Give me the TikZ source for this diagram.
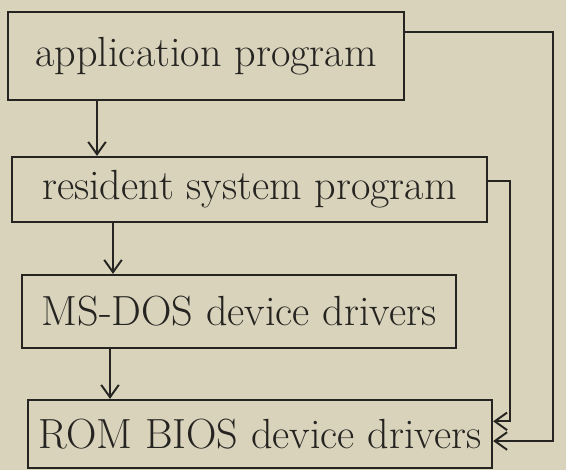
\documentclass[tikz,border=0pt]{standalone}
\usetikzlibrary{arrows.meta,calc}
\definecolor{paper}{HTML}{D9D3BC}
\definecolor{ink}{HTML}{262421}
\begin{document}
\begin{tikzpicture}[x=0.02cm,y=-0.02cm,
  box/.style={draw=ink,line width=1.3pt,fill=paper,inner sep=0pt,font=\fontsize{24}{28}\selectfont,text=ink},
  link/.style={draw=ink,line width=1.1pt},
  arr/.style={link,-{Straight Barb[length=7pt,width=10pt]}}]
\fill[paper] (0,0) rectangle (566,470);
\useasboundingbox (0,0) rectangle (566,470);
\node[box,minimum width=396*0.02cm,minimum height=88*0.02cm] (b1) at (206,56) {application program};
\node[box,minimum width=475*0.02cm,minimum height=65*0.02cm] (b2) at (249.5,189.5) {resident system program};
\node[box,minimum width=434*0.02cm,minimum height=73*0.02cm] (b3) at (239,311.5) {MS-DOS device drivers};
\node[box,minimum width=464*0.02cm,minimum height=68*0.02cm] (b4) at (260,434) {ROM BIOS device drivers};
\coordinate (c1) at (97,0);
\coordinate (c2) at (113,0);
\coordinate (c3) at (110,0);
\draw[arr] (b1.south -| c1) -- (b2.north -| c1);
\draw[arr] (b2.south -| c2) -- (b3.north -| c2);
\draw[arr] (b3.south -| c3) -- (b4.north -| c3);
\coordinate (o1) at ($(b1.north east)!0.23!(b1.south east)$);
\coordinate (b2o) at ($(b2.north east)!0.38!(b2.south east)$);
\coordinate (i1) at ($(b4.north east)!0.32!(b4.south east)$);
\coordinate (i2) at ($(b4.north east)!0.6!(b4.south east)$);
\coordinate (r1) at (510,0);
\coordinate (r2) at (553,0);
\draw[arr] (b2o) -- (b2o -| r1) -- (r1 |- i1) -- (i1);
\draw[arr] (o1) -- (o1 -| r2) -- (r2 |- i2) -- (i2);
\end{tikzpicture}
\end{document}
